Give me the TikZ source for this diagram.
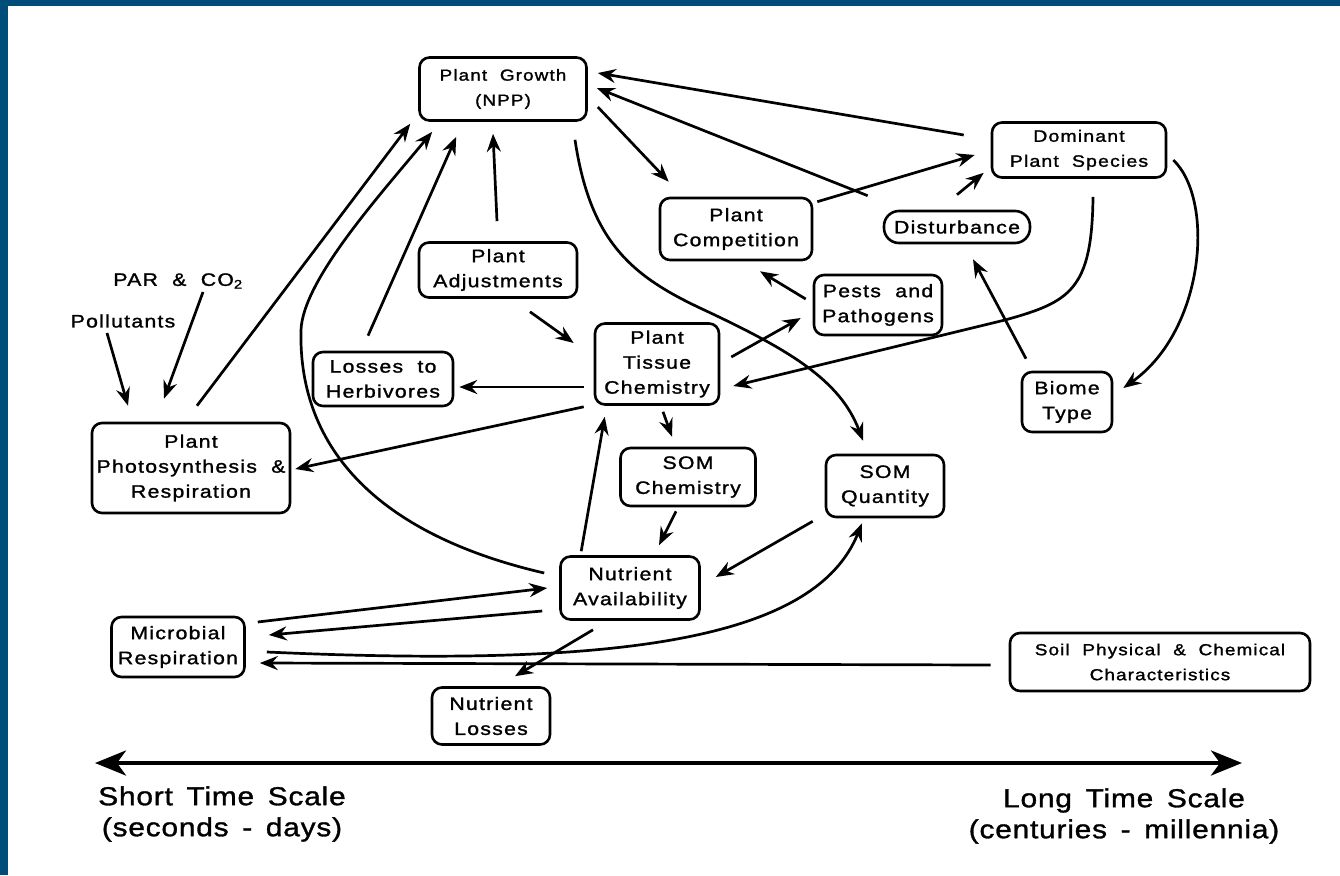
\documentclass[tikz,border=0pt]{standalone}
\usepackage{fontspec}
\usepackage{xcolor}
\usepackage{tikz}
\usetikzlibrary{arrows.meta}
\setmainfont{Liberation Sans}
\newfontfamily\diagfont[FakeStretch=1.18, FakeBold=1.4, LetterSpace=7, WordSpace=2]{Liberation Sans}
\newfontfamily\tsfont[FakeStretch=1.15, FakeBold=1.2, LetterSpace=3, WordSpace=1.5]{Liberation Sans}
\definecolor{frameblue}{HTML}{004D7A}

\begin{document}
\begin{tikzpicture}[x=1pt, y=-1pt,
    box/.style={rectangle, draw, line width=2.6pt, rounded corners=10pt, align=center, inner sep=0pt, font=\diagfont\fontsize{18}{25}\selectfont},
    pill/.style={box, rounded corners=15pt},
    tag/.style={inner sep=0pt, align=center, font=\diagfont\fontsize{18}{25}\selectfont},
    scale label/.style={inner sep=0pt, align=center, font=\tsfont\fontsize{26}{31}\selectfont},
    arrow/.style={-{Stealth[length=18pt, width=14pt, inset=6pt]}, line width=2.7pt},
    timearrow/.style={{Stealth[length=31pt, width=25pt, inset=9pt]}-{Stealth[length=31pt, width=25pt, inset=9pt]}, line width=4pt}
  ]
    \fill[white] (0,0) rectangle (1340,875);
    \fill[frameblue] (0,0) rectangle (1340,6);
    \fill[frameblue] (0,0) rectangle (8,875);
    \useasboundingbox (0,0) rectangle (1340,875);

    \node[box, minimum width=167pt, minimum height=63pt, font=\diagfont\fontsize{16}{25}\selectfont] (growth) at (503,89) {Plant Growth\\(NPP)};
    \node[box, minimum width=158pt, minimum height=55pt] (adjust) at (498,270) {Plant\\Adjustments};
    \node[box, minimum width=152pt, minimum height=62pt] (compet) at (736,229) {Plant\\Competition};
    \node[box, minimum width=174pt, minimum height=55pt, font=\diagfont\fontsize{16.5}{25}\selectfont] (domin) at (1079,150) {Dominant\\Plant Species};
    \node[pill, minimum width=146pt, minimum height=32pt] (disturb) at (957,227) {Disturbance};
    \node[box, minimum width=128pt, minimum height=60pt] (pests) at (878,305) {Pests and\\Pathogens};
    \node[box, minimum width=124pt, minimum height=81pt] (tissue) at (657,364) {Plant\\Tissue\\Chemistry};
    \node[box, minimum width=140pt, minimum height=54pt] (losses) at (383,379) {Losses to\\Herbivores};
    \node[box, minimum width=198pt, minimum height=90pt] (photo) at (191,468) {Plant\\Photosynthesis \&\\Respiration};
    \node[box, minimum width=135pt, minimum height=58pt] (somchem) at (688,477) {SOM\\Chemistry};
    \node[box, minimum width=118pt, minimum height=62pt] (somqty) at (885,486) {SOM\\Quantity};
    \node[box, minimum width=90pt, minimum height=60pt] (biome) at (1067,402) {Biome\\Type};
    \node[box, minimum width=139pt, minimum height=63pt] (nutav) at (630,588) {Nutrient\\Availability};
    \node[box, minimum width=133pt, minimum height=60pt] (microb) at (178,647) {Microbial\\Respiration};
    \node[box, minimum width=118pt, minimum height=57pt] (nutloss) at (491,716) {Nutrient\\Losses};
    \node[box, minimum width=300pt, minimum height=58pt, font=\diagfont\fontsize{16}{25}\selectfont] (soil) at (1160,662) {Soil Physical \& Chemical\\Characteristics};

    \node[tag] (pollut) at (123,321) {Pollutants};
    \node[tag] (parco) at (178,281) {PAR \& CO\textsubscript{2}};

    \draw[arrow] ([shift={(6,-16)}]photo.north) -- ([shift={(-8,2)}]growth.south west);
    \draw[arrow] ([shift={(-15,-15)}]nutav.west) .. controls (380,535) and (298,450) .. (301,330) .. controls (303,280) and (380,195) .. ([shift={(14,10)}]growth.south west);
    \draw[arrow] ([shift={(-15,-15)}]losses.north) -- ([shift={(38,15)}]growth.south west);
    \draw[arrow] ([shift={(-1,-20)}]adjust.north) -- ([shift={(-10,12)}]growth.south);
    \draw[arrow] ([shift={(-27,-15)}]domin.west) -- ([shift={(10,-16)}]growth.east);
    \draw[arrow] ([shift={(-15,-14)}]disturb.north west) -- ([shift={(9,-1)}]growth.east);
    \draw[arrow] ([shift={(10,18)}]growth.east) -- ([shift={(10,-15)}]compet.north west);
    \draw[arrow] ([shift={(72,18)}]growth.south) .. controls (590,240) and (630,275) .. (700,308) .. controls (790,350) and (840,380) .. ([shift={(-22,-13)}]somqty.north);

    \draw[arrow] ([shift={(4,5)}]compet.north east) -- ([shift={(-16,5)}]domin.west);
    \draw[arrow] ([shift={(0,-15)}]disturb.north) -- ([shift={(-7,-6)}]domin.south west);
    \draw[arrow] ([shift={(-7,-6)}]pests.west) -- ([shift={(24,10)}]compet.south);
    \draw[arrow] ([shift={(11,-7)}]tissue.east) -- ([shift={(-12,13)}]pests.west);
    \draw[arrow] ([shift={(14,18)}]domin.south) .. controls (1092,290) and (1070,302) .. (1005,320) -- ([shift={(13,22)}]tissue.east);
    \draw[arrow] ([shift={(6,10)}]domin.east) .. controls (1215,200) and (1205,330) .. ([shift={(10,-14)}]biome.east);
    \draw[arrow] ([shift={(-41,-12)}]biome.north) -- ([shift={(16,15)}]disturb.south);

    \draw[arrow] ([shift={(32,13)}]adjust.south) -- ([shift={(-20,-21)}]tissue.west);
    \draw[arrow] ([shift={(-10,23)}]tissue.west) -- ([shift={(5,8)}]losses.east);
    \draw[arrow] ([shift={(-10,1)}]tissue.south west) -- ([shift={(4,1)}]photo.east);
    \draw[arrow] ([shift={(22,-4)}]nutav.north west) -- ([shift={(11,11)}]tissue.south west);
    \draw[arrow] ([shift={(6,6)}]tissue.south) -- ([shift={(-16,-10)}]somchem.north);
    \draw[arrow] ([shift={(-12,4)}]somchem.south) -- ([shift={(29,-10)}]nutav.north);
    \draw[arrow] ([shift={(-12,3)}]somqty.south west) -- ([shift={(15,-11)}]nutav.east);

    \draw[arrow] ([shift={(21,5)}]microb.east) .. controls (620,668) and (815,640) .. ([shift={(-23,5)}]somqty.south);
    \draw[arrow] ([shift={(12,-25)}]microb.east) -- ([shift={(-12,0)}]nutav.west);
    \draw[arrow] ([shift={(-17,23)}]nutav.west) -- ([shift={(23,-12)}]microb.east);
    \draw[arrow] ([shift={(-18,3)}]soil.west) -- ([shift={(14,16)}]microb.east);
    \draw[arrow] ([shift={(-37,9)}]nutav.south) -- ([shift={(24,-10)}]nutloss.north);

    \draw[arrow] ([shift={(-16,12)}]pollut.center) -- ([shift={(-63,-16)}]photo.north);
    \draw[arrow] ([shift={(25,11)}]parco.center) -- ([shift={(-27,-23)}]photo.north);

    \coordinate (tshort) at (95,763);
    \coordinate (tlong) at (1242,763);
    \draw[timearrow] (tshort) -- (tlong);
    \node[scale label] (short) at (222,814) {Short Time Scale\\(seconds - days)};
    \node[scale label] (long) at (1124,816) {Long Time Scale\\(centuries - millennia)};
\end{tikzpicture}
\end{document}
